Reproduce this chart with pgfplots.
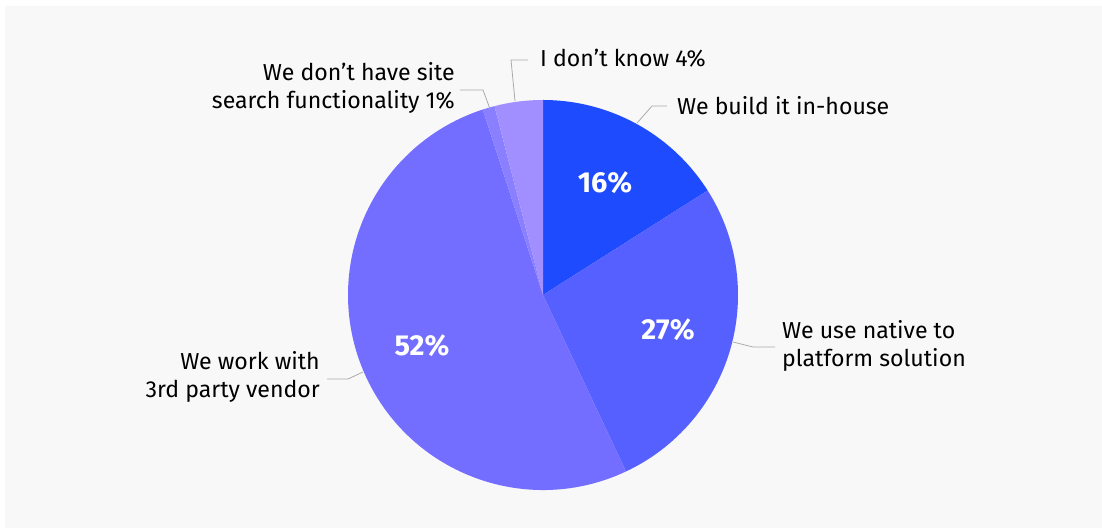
\documentclass[border=0pt]{standalone}
\usepackage{fontspec}
\setmainfont{Fira Sans}
\usepackage{pgfplots}
\pgfplotsset{compat=1.18}
\definecolor{bg}{HTML}{F8F8F8}
\definecolor{cA}{HTML}{1F4BFF}
\definecolor{cB}{HTML}{5560FF}
\definecolor{cC}{HTML}{736EFF}
\definecolor{cD}{HTML}{8A80FF}
\definecolor{cE}{HTML}{A28FFF}
\definecolor{lead}{HTML}{ABABAB}
\begin{document}
\begin{tikzpicture}
\begin{axis}[
  name=ax,
  width=1102bp, height=528bp, scale only axis,
  xmin=0, xmax=1102, ymin=0, ymax=528,
  axis lines=none, clip=false,
]
% background
\fill[bg] (axis cs:5,0) rectangle (axis cs:1102,522);
% pie: values 16, 27, 52, 1, 4 (clockwise from top)
\fill[cA] (axis cs:543,233) -- ++(90:195bp) arc[start angle=90, end angle={90-3.6*16}, radius=195bp] -- cycle;
\fill[cB] (axis cs:543,233) -- ++({90-3.6*16}:195bp) arc[start angle={90-3.6*16}, end angle={90-3.6*43}, radius=195bp] -- cycle;
\fill[cC] (axis cs:543,233) -- ++({90-3.6*43}:195bp) arc[start angle={90-3.6*43}, end angle={90-3.6*95}, radius=195bp] -- cycle;
\fill[cD] (axis cs:543,233) -- ++({90-3.6*95}:195bp) arc[start angle={90-3.6*95}, end angle={90-3.6*96}, radius=195bp] -- cycle;
\fill[cE] (axis cs:543,233) -- ++({90-3.6*96}:195bp) arc[start angle={90-3.6*96}, end angle={90-3.6*100}, radius=195bp] -- cycle;
% percent labels
\node[white, font=\fontsize{29}{34}\selectfont\bfseries] at (axis cs:605,345) {16\%};
\node[white, font=\fontsize{29}{34}\selectfont\bfseries] at (axis cs:668,198) {27\%};
\node[white, font=\fontsize{29}{34}\selectfont\bfseries] at (axis cs:422,182) {52\%};
% leader lines
\draw[lead, line width=0.8pt] (axis cs:637,405) -- (axis cs:652,422) -- (axis cs:667,422);
\draw[lead, line width=0.8pt] (axis cs:515,427) -- (axis cs:511,468) -- (axis cs:528,468);
\draw[lead, line width=0.8pt] (axis cs:490,419) -- (axis cs:483,438) -- (axis cs:460,438);
\draw[lead, line width=0.8pt] (axis cs:363,156) -- (axis cs:348,149) -- (axis cs:327,149);
\draw[lead, line width=0.8pt] (axis cs:733,186) -- (axis cs:753,181) -- (axis cs:775,181);
% category labels
\node[anchor=west, font=\fontsize{23.2}{28}\selectfont, inner sep=0pt] at (axis cs:677,422) {We build it in-house};
\node[anchor=west, font=\fontsize{23.2}{28}\selectfont, inner sep=0pt] at (axis cs:540,470) {I don’t know 4\%};
\node[anchor=east, align=right, font=\fontsize{23.2}{28}\selectfont, inner sep=0pt] at (axis cs:455,440) {We don’t have site\\search functionality 1\%};
\node[anchor=east, align=right, font=\fontsize{23.2}{28}\selectfont, inner sep=0pt] at (axis cs:320,151) {We work with\\3rd party vendor};
\node[anchor=west, align=left, font=\fontsize{23.2}{28}\selectfont, inner sep=0pt] at (axis cs:782,182) {We use native to\\platform solution};
\end{axis}
\pgfresetboundingbox
\useasboundingbox (ax.south west) rectangle (ax.north east);
\end{tikzpicture}
\end{document}
